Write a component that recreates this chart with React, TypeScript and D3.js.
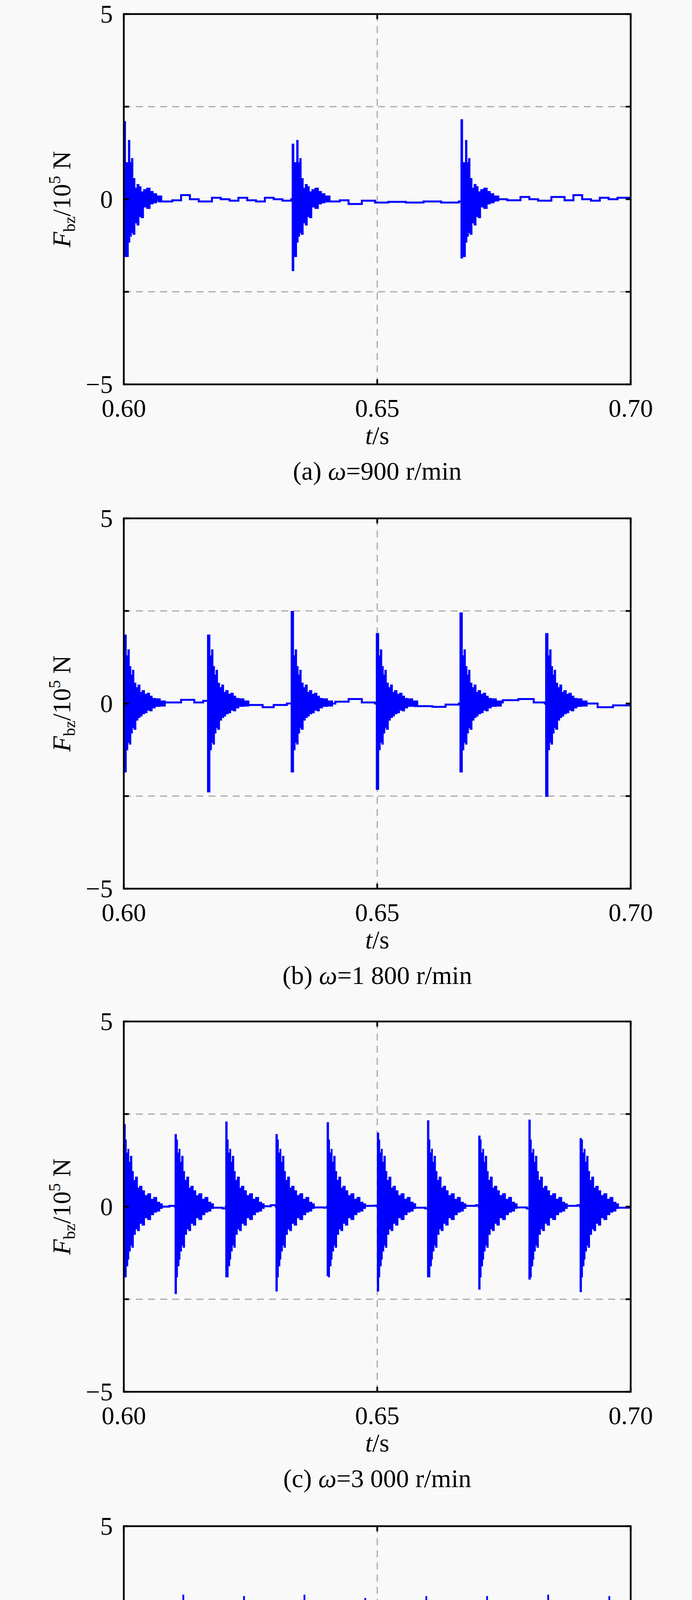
import React, { useEffect } from 'react';
import * as d3 from 'd3';

// time axis and force axis
const xTicks = [0.6, 0.65, 0.7];
const xTickLabels = ['0.60', '0.65', '0.70'];
const yTicks = [-5, -2.5, 0, 2.5, 5];
const yLabelTicks = [5, 0, -5];
const yTickLabels = ['5', '0', '\u22125'];
const gridY = [-2.5, 2.5];
const gridX = [0.65];

// each profile row: [dt after impact (s), upper envelope, lower envelope]

// (a) 900 r/min
const timesA = [0.6, 0.6332, 0.6665];
const peaksA = [[2.1, -1.55], [1.49, -1.93], [2.15, -1.59]];
const kindsA = [0, 0, 0];
const profileA = [
  [0, 2.1, -1.55], [0.00035, 0.99, -1.55], [0.0009, 1.59, -1.16], [0.0012, 0.99, -1.0],
  [0.0015, 1.1, -0.9], [0.0018, 0.56, -0.95], [0.0022, 0.3, -0.64], [0.0026, 0.4, -0.7],
  [0.003, 0.34, -0.47], [0.0034, 0.2, -0.5], [0.0039, 0.26, -0.21], [0.0045, 0.3, -0.25],
  [0.0052, 0.21, -0.13], [0.0058, 0.15, -0.1], [0.0065, 0.09, -0.05], [0.0075, 0, 0],
];
const baseA = [
  [0.6, 0], [0.60522, 0], [0.60696, -0.06], [0.60957, -0.03], [0.6113, 0.11], [0.61304, 0],
  [0.61478, -0.06], [0.61739, 0.04], [0.61913, 0], [0.62087, -0.04], [0.62261, 0.04],
  [0.62435, -0.03], [0.62609, -0.06], [0.62783, 0.04], [0.62957, 0], [0.6313, -0.04],
  [0.63304, 0], [0.64, -0.06], [0.64261, -0.03], [0.64435, -0.13], [0.64696, -0.04],
  [0.64957, -0.09], [0.65217, -0.07], [0.65565, -0.09], [0.65913, -0.06], [0.66261, -0.09],
  [0.66609, -0.06], [0.67304, 0], [0.67565, -0.03], [0.67826, 0.06], [0.68, 0],
  [0.68174, -0.04], [0.68435, 0.06], [0.68696, -0.03], [0.6887, 0.11], [0.69043, 0],
  [0.69217, -0.04], [0.69391, 0.04], [0.69565, 0], [0.69739, 0.04], [0.7, -0.03],
];

// (b) 1 800 r/min
const timesB = [0.6, 0.6165, 0.633, 0.6498, 0.6663, 0.6832];
const peaksB = [[1.85, -1.85], [1.85, -2.39], [2.49, -1.85], [1.89, -2.32], [2.45, -1.85], [1.89, -2.51]];
const kindsB = [0, 0, 0, 0, 0, 0];
const profileB = [
  [0, 1.85, -1.85], [0.0005, 1.29, -1.25], [0.0008, 1.45, -1.05], [0.0011, 1.0, -1.1],
  [0.0014, 0.77, -0.8], [0.0017, 0.9, -0.65], [0.002, 0.55, -0.7], [0.0024, 0.43, -0.45],
  [0.0028, 0.5, -0.38], [0.0032, 0.3, -0.34], [0.0036, 0.35, -0.28], [0.0041, 0.25, -0.25],
  [0.0046, 0.28, -0.18], [0.0051, 0.2, -0.2], [0.0056, 0.14, -0.12], [0.0062, 0.13, -0.08],
  [0.0072, 0.07, -0.07], [0.0082, 0, 0],
];
const baseB = [
  [0.6, 0], [0.60522, 0], [0.60783, 0.03], [0.6113, 0.1], [0.61391, 0.03], [0.61565, 0.07],
  [0.62174, 0], [0.62435, -0.04], [0.62739, -0.1], [0.62957, -0.04], [0.63217, 0],
  [0.63826, 0], [0.64174, 0.05], [0.64435, 0.12], [0.64696, 0.03], [0.64957, 0],
  [0.65391, 0], [0.65739, -0.07], [0.66087, -0.09], [0.66348, -0.03], [0.66609, 0],
  [0.67217, 0.03], [0.67478, 0.09], [0.67783, 0.12], [0.68087, 0.03], [0.68304, 0],
  [0.6887, -0.04], [0.6913, 0], [0.69348, -0.1], [0.69652, -0.05], [0.7, -0.07],
];

// (c) 3 000 r/min
const timesC = [0.6, 0.6101, 0.6201, 0.63, 0.6401, 0.65, 0.6599, 0.67, 0.6799, 0.69];
const peaksC = [
  [2.22, -1.9], [1.95, -2.35], [2.29, -1.9], [1.95, -2.28], [2.27, -1.87],
  [1.99, -2.28], [2.32, -1.9], [1.91, -2.23], [2.34, -1.96], [1.84, -2.3],
];
const kindsC = [0, 0, 0, 0, 0, 0, 0, 0, 0, 0];
const profileC = [
  [0, 2.2, -1.9], [0.0003, 1.8, -1.9], [0.0005, 1.45, -1.6], [0.0008, 1.55, -1.42],
  [0.001, 1.2, -1.2], [0.0013, 1.36, -1.04], [0.0016, 0.95, -1.1], [0.0019, 0.71, -0.75],
  [0.0023, 0.8, -0.6], [0.0027, 0.5, -0.65], [0.0031, 0.55, -0.45], [0.0036, 0.43, -0.5],
  [0.0041, 0.3, -0.3], [0.0047, 0.35, -0.35], [0.0053, 0.2, -0.22], [0.0059, 0.25, -0.15],
  [0.0065, 0.12, -0.12], [0.0071, 0.08, -0.05], [0.0076, 0, 0],
];
const baseC = [
  [0.6, 0], [0.607, 0], [0.609, 0.02], [0.6101, 0], [0.617, -0.03], [0.6195, -0.05],
  [0.6201, 0], [0.627, 0.01], [0.629, 0.04], [0.63, 0], [0.637, -0.02], [0.6395, -0.03],
  [0.6401, 0], [0.647, 0.02], [0.6495, 0.03], [0.65, 0], [0.657, -0.03], [0.6595, -0.05],
  [0.66, 0], [0.667, 0.02], [0.6695, 0.04], [0.67, 0], [0.677, -0.02], [0.6795, -0.05],
  [0.68, 0], [0.687, 0.02], [0.6895, 0.04], [0.69, 0], [0.697, -0.03], [0.7, -0.05],
];

// (d) 5 000 r/min : two alternating impact shapes
const timesD = [
  0.6, 0.60571, 0.61164, 0.6177, 0.62362, 0.62955, 0.63554, 0.6416, 0.64753,
  0.65366, 0.65958, 0.66557, 0.67157, 0.67763, 0.68362, 0.68969, 0.69568,
];
const peaksD = [
  [2.37, -2.4], [2.6, -3.13], [3.14, -2.65], [2.6, -3.1], [3.1, -2.69], [2.6, -3.1],
  [3.14, -2.76], [2.6, -3.13], [3.05, -2.63], [2.6, -3.16], [3.1, -2.76], [2.6, -3.13],
  [3.1, -2.66], [2.7, -3.16], [3.14, -2.63], [2.7, -3.13], [3.1, -2.66],
];
const kindsD = [0, 1, 0, 1, 0, 1, 0, 1, 0, 1, 0, 1, 0, 1, 0, 1, 0];
const profileDUp = [
  [0, 3.15, -2.67], [0.0002, 2.45, -2.67], [0.0006, 2.45, -2.0], [0.00085, 1.5, -2.0],
  [0.00123, 1.5, -1.47], [0.00136, 1.67, -1.47], [0.00162, 1.12, -1.47], [0.00187, 1.12, -0.95],
  [0.00239, 0.72, -0.62], [0.00303, 0.45, -0.44], [0.00367, 0.4, -0.26], [0.00457, 0.4, -0.02],
  [0.00595, 0.4, -0.02],
];
const profileDDown = [
  [0, 2.6, -3.06], [0.0002, 2.6, -2.4], [0.00077, 1.99, -2.4], [0.00103, 1.99, -1.49],
  [0.00154, 1.47, -1.69], [0.0018, 1.47, -1.15], [0.00218, 0.98, -1.15], [0.00231, 0.98, -0.71],
  [0.00295, 0.58, -0.71], [0.00308, 0.58, -0.44], [0.00411, 0.25, -0.4], [0.00475, 0.05, -0.44],
  [0.006, 0.05, -0.44],
];
const baseD = [[0.6, 0], [0.63, -0.03], [0.66, 0.02], [0.7, 0]];

const captions = [
  { tag: '(a) ', speed: '=900 r/min' },
  { tag: '(b) ', speed: '=1 800 r/min' },
  { tag: '(c) ', speed: '=3 000 r/min' },
  { tag: '(d) ', speed: '=5 000 r/min' },
];

const panels = [
  { top: 36, times: timesA, peaks: peaksA, kinds: kindsA, profiles: [profileA], base: baseA },
  { top: 1327, times: timesB, peaks: peaksB, kinds: kindsB, profiles: [profileB], base: baseB },
  { top: 2615, times: timesC, peaks: peaksC, kinds: kindsC, profiles: [profileC], base: baseC },
  { top: 3907, times: timesD, peaks: peaksD, kinds: kindsD, profiles: [profileDUp, profileDDown], base: baseD },
];

const W = 1772;
const H = 5119;
const left = 317;
const right = 1615;
const plotH = 948;
const font = '"Liberation Serif", "Times New Roman", serif';
const blue = '#0000ff';

interface PanelProps {
  idx: number;
  top: number;
  times: number[];
  peaks: number[][];
  kinds: number[];
  profiles: number[][][];
  base: number[][];
}

const Panel: React.FC<PanelProps> = ({ idx, top, times, peaks, kinds, profiles, base }) => {
  const x = d3.scaleLinear().domain([0.6, 0.7]).range([left, right]);
  const y = d3.scaleLinear().domain([-5, 5]).range([top + plotH, top]);
  const bottom = top + plotH;
  const cx = (left + right) / 2;

  const line = d3.line<number[]>().x(d => x(d[0])).y(d => y(d[1])).curve(d3.curveStepAfter);
  const area = d3
    .area<{ t: number; up: number; lo: number }>()
    .x(d => x(d.t))
    .y0(d => y(d.lo))
    .y1(d => y(d.up))
    .curve(d3.curveStepAfter);

  const bursts = times.map((t0, i) =>
    profiles[kinds[i]].map((p, j) => ({
      t: t0 + p[0],
      up: j === 0 ? peaks[i][0] : p[1],
      lo: j === 0 ? peaks[i][1] : p[2],
    }))
  );

  const clipId = `clip-${idx}`;
  const cap = captions[idx];

  return (
    <g>
      <defs>
        <clipPath id={clipId}>
          <rect x={left} y={top} width={right - left} height={plotH} />
        </clipPath>
      </defs>

      {/* grid */}
      {gridY.map(v => (
        <line key={`gy${v}`} x1={left} x2={right} y1={y(v)} y2={y(v)}
          stroke="#a9a9a9" strokeWidth={3} strokeDasharray="18 13" />
      ))}
      {gridX.map(v => (
        <line key={`gx${v}`} x1={x(v)} x2={x(v)} y1={top} y2={bottom}
          stroke="#a9a9a9" strokeWidth={3} strokeDasharray="18 13" />
      ))}

      {/* signal */}
      <g clipPath={`url(#${clipId})`}>
        <path d={line(base) || ''} fill="none" stroke={blue} strokeWidth={5} />
        {bursts.map((b, i) => (
          <path key={i} d={area(b) || ''} fill={blue} stroke={blue} strokeWidth={2} />
        ))}
      </g>

      {/* frame + ticks */}
      <rect x={left} y={top} width={right - left} height={plotH} fill="none" stroke="#000" strokeWidth={4.5} />
      {yTicks.map(v => (
        <g key={`ty${v}`}>
          <line x1={left} x2={left + 13} y1={y(v)} y2={y(v)} stroke="#000" strokeWidth={4.5} />
          <line x1={right - 13} x2={right} y1={y(v)} y2={y(v)} stroke="#000" strokeWidth={4.5} />
        </g>
      ))}
      {xTicks.map(v => (
        <g key={`tx${v}`}>
          <line x1={x(v)} x2={x(v)} y1={bottom} y2={bottom - 13} stroke="#000" strokeWidth={4.5} />
          <line x1={x(v)} x2={x(v)} y1={top} y2={top + 13} stroke="#000" strokeWidth={4.5} />
        </g>
      ))}

      {/* tick labels */}
      {yLabelTicks.map((v, i) => (
        <text key={`ly${v}`} x={289} y={y(v) + 22} textAnchor="end" fontSize={65} fontFamily={font}>
          {yTickLabels[i]}
        </text>
      ))}
      {xTicks.map((v, i) => (
        <text key={`lx${v}`} x={x(v)} y={bottom + 83} textAnchor="middle" fontSize={65} fontFamily={font}>
          {xTickLabels[i]}
        </text>
      ))}

      {/* axis titles */}
      <text x={cx} y={bottom + 153} textAnchor="middle" fontSize={65} fontFamily={font}>
        <tspan fontStyle="italic">t</tspan>/s
      </text>
      <text transform={`translate(180,${(top + bottom) / 2}) rotate(-90)`} textAnchor="middle"
        fontSize={65} fontFamily={font}>
        <tspan fontStyle="italic">F</tspan>
        <tspan fontSize={42} dy={12}>bz</tspan>
        <tspan dy={-12}>/10</tspan>
        <tspan fontSize={42} dy={-26}>5</tspan>
        <tspan dy={26}> N</tspan>
      </text>

      {/* caption */}
      <text x={cx} y={bottom + 244} textAnchor="middle" fontSize={66} fontFamily={font}>
        {cap.tag}
        <tspan fontStyle="italic">ω</tspan>
        {cap.speed}
      </text>
    </g>
  );
};

export default function App() {
  useEffect(() => {
    document.body.style.margin = '0';
  }, []);

  return (
    <svg width={W} height={H} viewBox={`0 0 ${W} ${H}`} style={{ display: 'block' }}>
      <rect x={0} y={0} width={W} height={H} fill="#f9f9f9" />
      {panels.map((p, i) => (
        <Panel key={i} idx={i} {...p} />
      ))}
    </svg>
  );
}
